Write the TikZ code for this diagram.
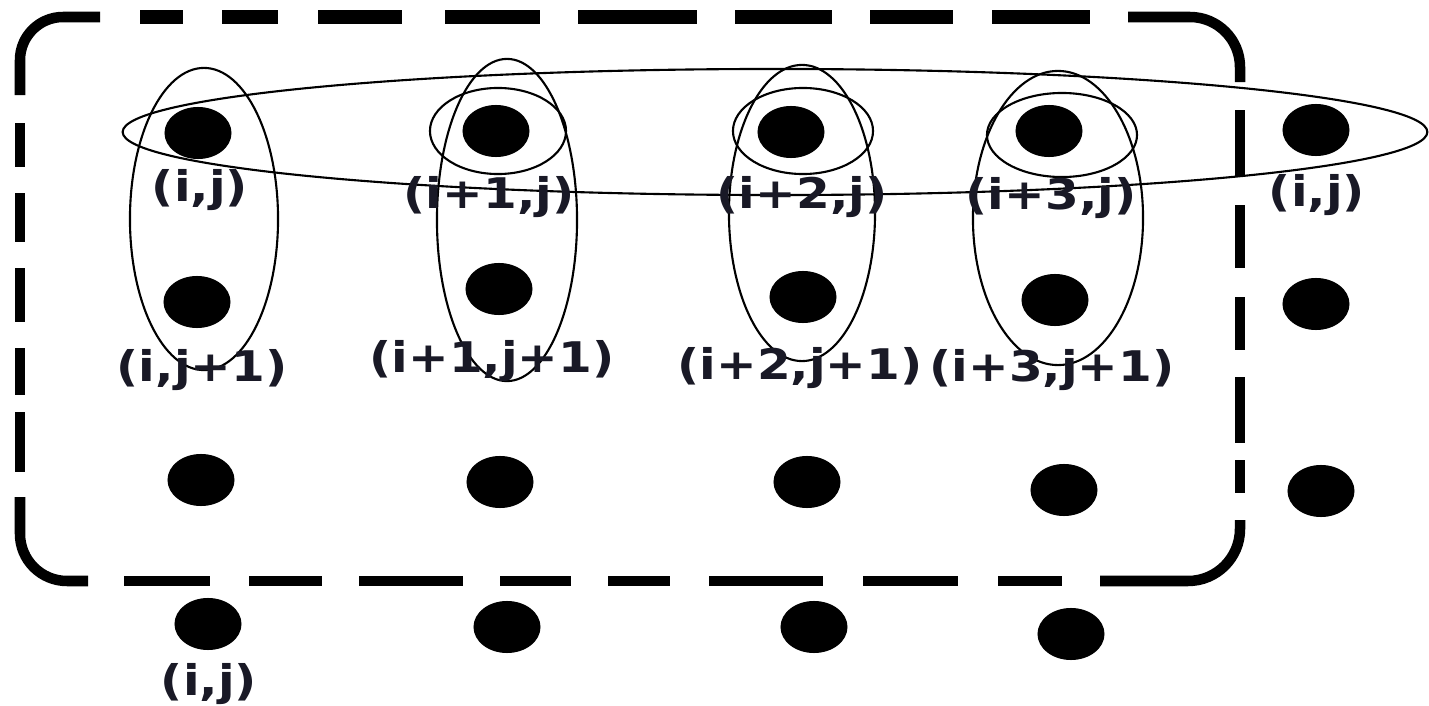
\documentclass[tikz,border=0pt]{standalone}
\usepackage{fontspec}
\setmainfont{DejaVu Sans}
\usepackage{graphicx}
\usetikzlibrary{shapes.geometric}
\definecolor{lbl}{RGB}{25,25,38}
\newcommand{\stretchlab}[1]{\scalebox{1.15}[1]{#1}}
\begin{document}
\begin{tikzpicture}[x=0.01cm,y=-0.01cm,
  dot/.style={ellipse,fill=black,inner sep=0pt,minimum width=0.67cm,minimum height=0.52cm},
  lab/.style={inner sep=0pt,text=lbl,font=\fontsize{12}{14}\selectfont\bfseries},
  frame/.style={line width=0.105cm,black},
  topframe/.style={line width=0.135cm,black},
  loopline/.style={line width=0.6pt,black}]
\useasboundingbox[fill=white] (0,0) rectangle (1429,706);

% dashed rounded frame
\draw[frame,rounded corners=0.43cm] (20,95) -- (20,17) -- (100,17);
\draw[frame,rounded corners=0.5cm] (1128,17) -- (1240,17) -- (1240,82);
\draw[frame,rounded corners=0.52cm] (1100,581) -- (1240,581) -- (1240,520);
\draw[frame,rounded corners=0.47cm] (20,497) -- (20,581) -- (88,581);
\foreach \a/\b in {140/183,222/278,318/402,445/540,578/697,735/832,870/953,992/1090}
  \draw[topframe] (\a,17) -- (\b,17);
\foreach \a/\b in {123/167,193/242,268/322,348/395,412/472}
  \draw[frame] (20,\a) -- (20,\b);
\foreach \a/\b in {110/177,205/268,297/350,377/443,460/493}
  \draw[frame] (1240,\a) -- (1240,\b);
\foreach \a/\b in {124/210,249/322,359/463,500/571,608/670,709/823,863/958,998/1062}
  \draw[frame] (\a,581) -- (\b,581);

% hand-drawn loops
\draw[loopline] (775,132) ellipse [x radius=6.52cm, y radius=0.63cm];
\draw[loopline] (204,219) ellipse [x radius=0.74cm, y radius=1.51cm];
\draw[loopline] (507,220) ellipse [x radius=0.70cm, y radius=1.61cm];
\draw[loopline] (802,213) ellipse [x radius=0.73cm, y radius=1.48cm];
\draw[loopline] (1058,218) ellipse [x radius=0.85cm, y radius=1.47cm];
\draw[loopline] (498,131) ellipse [x radius=0.68cm, y radius=0.43cm];
\draw[loopline] (803,131) ellipse [x radius=0.70cm, y radius=0.43cm];
\draw[loopline] (1062,135) ellipse [x radius=0.75cm, y radius=0.42cm];

% dots
\node[dot] (a1) at (198,133) {};
\node[dot] (a2) at (496,131) {};
\node[dot] (a3) at (791,132) {};
\node[dot] (a4) at (1049,131) {};
\node[dot] (a5) at (1316,130) {};
\node[dot] (b1) at (197,302) {};
\node[dot] (b2) at (499,289) {};
\node[dot] (b3) at (803,297) {};
\node[dot] (b4) at (1055,300) {};
\node[dot] (b5) at (1316,304) {};
\node[dot] (c1) at (201,480) {};
\node[dot] (c2) at (500,482) {};
\node[dot] (c3) at (807,482) {};
\node[dot] (c4) at (1064,490) {};
\node[dot] (c5) at (1321,491) {};
\node[dot] (d1) at (208,624) {};
\node[dot] (d2) at (507,627) {};
\node[dot] (d3) at (814,627) {};
\node[dot] (d4) at (1071,634) {};

% labels
\node[lab] (la1) at (200,190) {\stretchlab{(i,j)}};
\node[lab] (la2) at (489,197) {\stretchlab{(i+1,j)}};
\node[lab] (la3) at (802,197) {\stretchlab{(i+2,j)}};
\node[lab] (la4) at (1051,198) {\stretchlab{(i+3,j)}};
\node[lab] (la5) at (1317,195) {\stretchlab{(i,j)}};
\node[lab] (lb1) at (202,370) {\stretchlab{(i,j+1)}};
\node[lab] (lb2) at (492,361) {\stretchlab{(i+1,j+1)}};
\node[lab] (lb3) at (800,368) {\stretchlab{(i+2,j+1)}};
\node[lab] (lb4) at (1052,370) {\stretchlab{(i+3,j+1)}};
\node[lab] (ld1) at (209,684) {\stretchlab{(i,j)}};
\end{tikzpicture}
\end{document}
